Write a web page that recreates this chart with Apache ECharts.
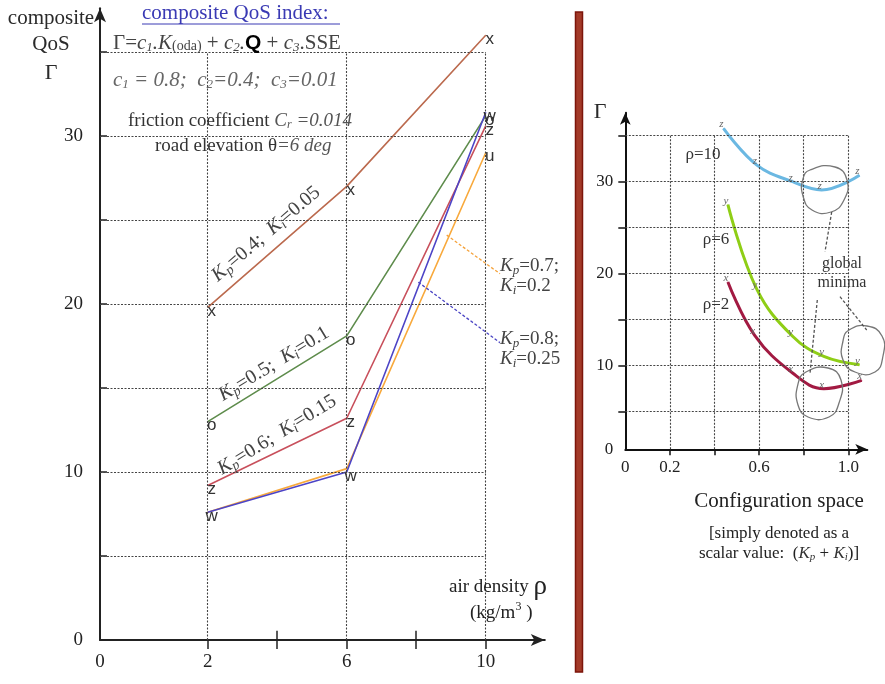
<!DOCTYPE html>
<html><head><meta charset="utf-8">
<script src="https://cdn.jsdelivr.net/npm/echarts@6/dist/echarts.min.js"></script>
<style>html,body{margin:0;padding:0;background:#fff}#c{width:885px;height:684px}</style>
</head><body><div id="c"></div><script>
// ---------- data (left panel) ----------
const rhoValues = [2, 6, 10];
const gammaKp04 = [19.8, 27.0, 36.0];   // Kp=0.4; Ki=0.05  (x)
const gammaKp05 = [13.0, 18.1, 31.2];   // Kp=0.5; Ki=0.1   (o)
const gammaKp06 = [9.2, 13.2, 30.6];    // Kp=0.6; Ki=0.15  (z)
const gammaKp07 = [7.6, 10.2, 29.0];    // Kp=0.7; Ki=0.2   (u)
const gammaKp08 = [7.6, 10.0, 31.4];    // Kp=0.8; Ki=0.25  (w)
const leftXTickValues = [2, 4, 6, 8, 10];
const leftXLabelValues = [2, 6, 10];
const leftYTickValues = [5, 10, 15, 20, 25, 30, 35];
const leftYLabelValues = [0, 10, 20, 30];
// ---------- data (right panel) ----------
const configRho10 = [0.44, 0.59, 0.75, 0.88, 1.05];
const gammaRho10  = [35.8, 31.8, 30.0, 29.1, 30.7];
const configRho6  = [0.46, 0.59, 0.75, 0.89, 1.05];
const gammaRho6   = [27.5, 18.3, 13.2, 11.0, 10.1];
const configRho2  = [0.46, 0.58, 0.75, 0.89, 1.06];
const gammaRho2   = [19.1, 13.3, 9.2, 7.5, 8.4];
const rightXTickValues = [0.2, 0.4, 0.6, 0.8, 1.0];
const rightXLabelValues = [0, 0.2, 0.6, 1.0];
const rightYTickValues = [5, 10, 15, 20, 25, 30, 35];
const rightYLabelValues = [10, 20, 30];

const SERIF = 'Liberation Serif';
const SANS = 'Liberation Sans';
const LEFT_X_ORIGIN = -1.1, RIGHT_Y_ORIGIN = 0.91;

function pairs(xs, ys) { return xs.map((x, i) => [x, ys[i]]); }

const dotted = { color: '#444', width: 1.1, type: [2, 1.5] };
function gridLines(hVals, xFrom, xTo, vVals, yFrom, yTo) {
  const d = [];
  hVals.forEach(v => d.push([{ coord: [xFrom, v] }, { coord: [xTo, v] }]));
  vVals.forEach(v => d.push([{ coord: [v, yFrom] }, { coord: [v, yTo] }]));
  return d;
}

function leftSeries(name, ys, color, letters, z) {
  return {
    name, type: 'line', xAxisIndex: 0, yAxisIndex: 0, z,
    data: pairs(rhoValues, ys),
    symbol: 'circle', symbolSize: 1, showSymbol: true,
    itemStyle: { color },
    lineStyle: { color, width: 1.6 },
    label: {
      show: true, position: 'inside', offset: [4, 4],
      formatter: p => letters[p.dataIndex],
      fontFamily: SANS, fontSize: 17, color: '#333'
    }
  };
}
function rightSeries(name, xs, ys, color, letter) {
  return {
    name, type: 'line', xAxisIndex: 1, yAxisIndex: 1, z: 3,
    data: pairs(xs, ys), smooth: 0.4,
    symbol: 'circle', symbolSize: 1, showSymbol: true,
    itemStyle: { color },
    lineStyle: { color, width: 3 },
    label: {
      show: true, position: 'top', distance: 0, offset: [-2, 2],
      formatter: letter,
      fontFamily: SERIF, fontStyle: 'italic', fontSize: 11, color: '#666'
    }
  };
}

const chart = echarts.init(document.getElementById('c'), null, { renderer: 'canvas' });

const axisLabelL = { fontFamily: SERIF, fontSize: 19, color: '#222' };
const axisLabelR = { fontFamily: SERIF, fontSize: 17, color: '#222' };

const option = {
  animation: false,
  backgroundColor: '#fff',
  grid: [
    { left: 100, right: 340.2, top: 8.3, bottom: 44, containLabel: false },
    { left: 625.3, right: 17.7, top: 112.7, bottom: 234.7, containLabel: false }
  ],
  xAxis: [
    {
      type: 'value', gridIndex: 0, min: LEFT_X_ORIGIN, max: 11.7,
      axisLine: { onZero: false, symbol: ['none', 'arrow'], symbolSize: [9, 14], lineStyle: { color: '#222', width: 2 } },
      axisTick: { show: true, customValues: leftXTickValues, length: 9, lineStyle: { color: '#222', width: 1.5 } },
      axisLabel: { ...axisLabelL, margin: 13, customValues: [LEFT_X_ORIGIN].concat(leftXLabelValues),
        formatter: v => (v < 0 ? '0' : String(v)) },
      splitLine: { show: false }
    },
    {
      type: 'value', gridIndex: 1, min: 0, max: 1.085,
      axisLine: { onZero: false, symbol: ['none', 'arrow'], symbolSize: [8, 12], lineStyle: { color: '#111', width: 2 } },
      axisTick: { show: true, customValues: rightXTickValues, length: 6, lineStyle: { color: '#111', width: 1.5 } },
      axisLabel: { ...axisLabelR, margin: 10, customValues: rightXLabelValues,
        formatter: v => (v === 0 ? '0' : v.toFixed(1)) },
      splitLine: { show: false }
    }
  ],
  yAxis: [
    {
      type: 'value', gridIndex: 0, min: 0, max: 37.6,
      axisLine: { onZero: false, symbol: ['none', 'arrow'], symbolSize: [9, 14], lineStyle: { color: '#222', width: 2 } },
      axisTick: { show: true, inside: true, customValues: leftYTickValues, length: 7, lineStyle: { color: '#222', width: 1.5 } },
      axisLabel: { ...axisLabelL, margin: 17, customValues: leftYLabelValues, formatter: v => String(v) },
      splitLine: { show: false }
    },
    {
      type: 'value', gridIndex: 1, min: RIGHT_Y_ORIGIN, max: 37.5,
      axisLine: { onZero: false, symbol: ['none', 'arrow'], symbolSize: [8, 12], lineStyle: { color: '#111', width: 2 } },
      axisTick: { show: true, customValues: rightYTickValues, length: 7, lineStyle: { color: '#111', width: 1.5 } },
      axisLabel: { ...axisLabelR, margin: 12, customValues: [RIGHT_Y_ORIGIN].concat(rightYLabelValues),
        formatter: v => (v < 1 ? '0' : String(v)) },
      splitLine: { show: false }
    }
  ],
  series: [
    { // left grid lines + leaders
      type: 'line', xAxisIndex: 0, yAxisIndex: 0, data: [], z: 1, silent: true,
      markLine: { silent: true, symbol: ['none', 'none'], label: { show: false }, animation: false,
        lineStyle: dotted,
        data: gridLines(leftYTickValues, LEFT_X_ORIGIN, 10, [2, 6, 10], 0, 35).concat([
          [{ coord: [4, 0], lineStyle: { color: '#222', width: 1.5, type: 'solid' } }, { coord: [4, 0.55] }],
          [{ coord: [8, 0], lineStyle: { color: '#222', width: 1.5, type: 'solid' } }, { coord: [8, 0.55] }],
          [{ coord: [8.877, 24.1], lineStyle: { color: '#f5a23a', width: 1.3, type: [3, 2] } }, { coord: [10.41, 21.8] }],
          [{ coord: [8.06, 21.3], lineStyle: { color: '#4a44c4', width: 1.3, type: [3, 2] } }, { coord: [10.41, 17.7] }]
        ]) }
    },
    { // right grid lines
      type: 'line', xAxisIndex: 1, yAxisIndex: 1, data: [], z: 1, silent: true,
      markLine: { silent: true, symbol: ['none', 'none'], label: { show: false }, animation: false,
        lineStyle: dotted,
        data: gridLines(rightYTickValues, 0, 1.0, rightXTickValues, RIGHT_Y_ORIGIN, 35) }
    },
    leftSeries('Kp=0.7; Ki=0.2', gammaKp07, '#f8a93c', ['', '', 'u'], 2),
    leftSeries('Kp=0.4; Ki=0.05', gammaKp04, '#bb6a4e', ['x', 'x', 'x'], 3),
    leftSeries('Kp=0.5; Ki=0.1', gammaKp05, '#5e8c4c', ['o', 'o', 'o'], 3),
    leftSeries('Kp=0.6; Ki=0.15', gammaKp06, '#c8505c', ['z', 'z', 'z'], 3),
    leftSeries('Kp=0.8; Ki=0.25', gammaKp08, '#4d44c6', ['w', 'w', 'w'], 4),
    rightSeries('ρ=10', configRho10, gammaRho10, '#6bb8e2', 'z'),
    rightSeries('ρ=6', configRho6, gammaRho6, '#8fce16', 'y'),
    rightSeries('ρ=2', configRho2, gammaRho2, '#a21a42', 'x')
  ]
};

// ---------- text & annotation graphics ----------
const dark = '#2a2a2a', grey = '#555';
function txt(x, y, text, o) {
  return { type: 'text', x, y, z: 50, silent: true,
    style: Object.assign({ text, fontFamily: SERIF, fontSize: 19, fill: dark, align: 'left', verticalAlign: 'middle' }, o || {}) };
}
function richKpKi(kp, ki, size) {
  return {
    text: '{i|K}{s|p}{n|=' + kp + ';  }{i|K}{s|i}{n|=' + ki + '}',
    rich: {
      i: { fontFamily: SERIF, fontStyle: 'italic', fontSize: size, fill: '#444' },
      n: { fontFamily: SERIF, fontSize: size, fill: '#444' },
      s: { fontFamily: SERIF, fontStyle: 'italic', fontSize: Math.round(size * 0.68), fill: '#444', padding: [Math.round(size * 0.45), 0, 0, 0] }
    }
  };
}
const deg = Math.PI / 180;
const graphics = [
  // left axis title
  txt(51, 18, 'composite', { align: 'center', fontSize: 21 }),
  txt(51, 44, 'QoS', { align: 'center', fontSize: 21 }),
  txt(51, 73, 'Γ', { align: 'center', fontSize: 22 }),
  // header
  txt(142, 13, 'composite QoS index:', { fontSize: 21, fill: '#3a3ab4' }),
  { type: 'line', z: 50, silent: true, shape: { x1: 142, y1: 24, x2: 340, y2: 24 }, style: { stroke: '#3a3ab4', lineWidth: 1 } },
  { type: 'text', x: 113, y: 43, z: 50, silent: true, style: {
      text: '{n|Γ=}{i|c}{s|1}{i|.K}{m|(oda)}{n| + }{i|c}{s|2}{i|.}{q|Q}{n| + }{i|c}{s|3}{n|.SSE}',
      verticalAlign: 'middle',
      rich: {
        n: { fontFamily: SERIF, fontSize: 21, fill: '#444' },
        i: { fontFamily: SERIF, fontStyle: 'italic', fontSize: 21, fill: '#444' },
        s: { fontFamily: SERIF, fontStyle: 'italic', fontSize: 13, fill: '#444', padding: [9, 0, 0, 0] },
        m: { fontFamily: SERIF, fontSize: 14, fill: '#444', padding: [7, 0, 0, 0] },
        q: { fontFamily: SANS, fontWeight: 'bold', fontSize: 21, fill: '#000' }
      } } },
  { type: 'text', x: 113, y: 80, z: 50, silent: true, style: {
      text: '{i|c}{s|1}{i| = 0.8;  c}{s|2}{i|=0.4;  c}{s|3}{i|=0.01}',
      verticalAlign: 'middle',
      rich: {
        i: { fontFamily: SERIF, fontStyle: 'italic', fontSize: 21, fill: '#666' },
        s: { fontFamily: SERIF, fontStyle: 'italic', fontSize: 13, fill: '#666', padding: [9, 0, 0, 0] }
      } } },
  { type: 'text', x: 128, y: 121, z: 50, silent: true, style: {
      text: '{n|friction coefficient }{i|C}{s|r}{i| =0.014}',
      verticalAlign: 'middle',
      rich: {
        n: { fontFamily: SERIF, fontSize: 19, fill: '#333' },
        i: { fontFamily: SERIF, fontStyle: 'italic', fontSize: 19, fill: '#555' },
        s: { fontFamily: SERIF, fontStyle: 'italic', fontSize: 12, fill: '#555', padding: [8, 0, 0, 0] }
      } } },
  { type: 'text', x: 155, y: 146, z: 50, silent: true, style: {
      text: '{n|road elevation θ}{i|=6 deg}',
      verticalAlign: 'middle',
      rich: {
        n: { fontFamily: SERIF, fontSize: 19, fill: '#333' },
        i: { fontFamily: SERIF, fontStyle: 'italic', fontSize: 19, fill: '#555' }
      } } },
  // rotated line labels
  { type: 'text', x: 266, y: 234, rotation: 40.3 * deg, z: 50, silent: true,
    style: Object.assign({ align: 'center', verticalAlign: 'middle' }, richKpKi('0.4', '0.05', 20)) },
  { type: 'text', x: 274, y: 364, rotation: 31.4 * deg, z: 50, silent: true,
    style: Object.assign({ align: 'center', verticalAlign: 'middle' }, richKpKi('0.5', '0.1', 20)) },
  { type: 'text', x: 277, y: 435, rotation: 31.6 * deg, z: 50, silent: true,
    style: Object.assign({ align: 'center', verticalAlign: 'middle' }, richKpKi('0.6', '0.15', 20)) },
  // side labels
  { type: 'text', x: 500, y: 266, z: 50, silent: true, style: Object.assign({ verticalAlign: 'middle' }, {
      text: '{i|K}{s|p}{n|=0.7;}', rich: richKpKi('', '', 19).rich }) },
  { type: 'text', x: 500, y: 286, z: 50, silent: true, style: Object.assign({ verticalAlign: 'middle' }, {
      text: '{i|K}{s|i}{n|=0.2}', rich: richKpKi('', '', 19).rich }) },
  { type: 'text', x: 500, y: 339, z: 50, silent: true, style: Object.assign({ verticalAlign: 'middle' }, {
      text: '{i|K}{s|p}{n|=0.8;}', rich: richKpKi('', '', 19).rich }) },
  { type: 'text', x: 500, y: 359, z: 50, silent: true, style: Object.assign({ verticalAlign: 'middle' }, {
      text: '{i|K}{s|i}{n|=0.25}', rich: richKpKi('', '', 19).rich }) },
  // x axis title left
  { type: 'text', x: 449, y: 587, z: 50, silent: true, style: {
      text: '{n|air density }{r|ρ}', verticalAlign: 'middle',
      rich: { n: { fontFamily: SERIF, fontSize: 19, fill: '#222' }, r: { fontFamily: SERIF, fontSize: 27, fill: '#222' } } } },
  { type: 'text', x: 470, y: 613, z: 50, silent: true, style: {
      text: '{n|(kg/m}{u|3}{n| )}', verticalAlign: 'middle',
      rich: { n: { fontFamily: SERIF, fontSize: 19, fill: '#222' }, u: { fontFamily: SERIF, fontSize: 12, fill: '#222', padding: [0, 0, 12, 0] } } } },
  // separator bar
  { type: 'rect', z: 50, silent: true, shape: { x: 575.5, y: 12, width: 7, height: 660 },
    style: { fill: '#a33a28', stroke: '#7c150a', lineWidth: 1.5 } },
  // right panel texts
  txt(600, 112, 'Γ', { align: 'center', fontSize: 22 }),
  txt(703, 155, 'ρ=10', { align: 'center', fontSize: 17, fill: '#333' }),
  txt(716, 240, 'ρ=6', { align: 'center', fontSize: 17, fill: '#333' }),
  txt(716, 305, 'ρ=2', { align: 'center', fontSize: 17, fill: '#333' }),
  txt(842, 264, 'global', { align: 'center', fontSize: 16, fill: '#333' }),
  txt(842, 283, 'minima', { align: 'center', fontSize: 16, fill: '#333' }),
  txt(779, 501, 'Configuration space', { align: 'center', fontSize: 21, fill: '#222' }),
  txt(779, 534, '[simply denoted as a', { align: 'center', fontSize: 17, fill: '#222' }),
  { type: 'text', x: 779, y: 554, z: 50, silent: true, style: {
      text: '{n|scalar value:  (}{i|K}{s|p}{n| + }{i|K}{s|i}{n|)]}', align: 'center', verticalAlign: 'middle',
      rich: {
        n: { fontFamily: SERIF, fontSize: 17, fill: '#222' },
        i: { fontFamily: SERIF, fontStyle: 'italic', fontSize: 17, fill: '#333' },
        s: { fontFamily: SERIF, fontStyle: 'italic', fontSize: 11, fill: '#333', padding: [7, 0, 0, 0] }
      } } },
  // global minima loops
  { type: 'polygon', z: 40, silent: true, shape: { smooth: 0.5, points: [[810,170],[835,167],[847,180],[844,200],[831,212],[812,210],[803,196],[803,179]] },
    style: { fill: 'none', stroke: '#777', lineWidth: 1.3 } },
  { type: 'polygon', z: 40, silent: true, shape: { smooth: 0.5, points: [[849,330],[867,326],[882,336],[883,356],[875,372],[855,372],[843,360],[843,341]] },
    style: { fill: 'none', stroke: '#777', lineWidth: 1.3 } },
  { type: 'polygon', z: 40, silent: true, shape: { smooth: 0.5, points: [[806,372],[828,368],[841,380],[839,403],[829,417],[808,417],[798,405],[798,384]] },
    style: { fill: 'none', stroke: '#777', lineWidth: 1.3 } },
  { type: 'line', z: 40, silent: true, shape: { x1: 831.7, y1: 212, x2: 825, y2: 251.7 }, style: { stroke: '#555', lineWidth: 1.3, lineDash: [3, 2] } },
  { type: 'line', z: 40, silent: true, shape: { x1: 840, y1: 296.7, x2: 866.7, y2: 330 }, style: { stroke: '#555', lineWidth: 1.3, lineDash: [3, 2] } },
  { type: 'line', z: 40, silent: true, shape: { x1: 817.3, y1: 300, x2: 810, y2: 373.3 }, style: { stroke: '#555', lineWidth: 1.3, lineDash: [3, 2] } }
];
option.graphic = { elements: graphics };
chart.setOption(option);
</script></body></html>
